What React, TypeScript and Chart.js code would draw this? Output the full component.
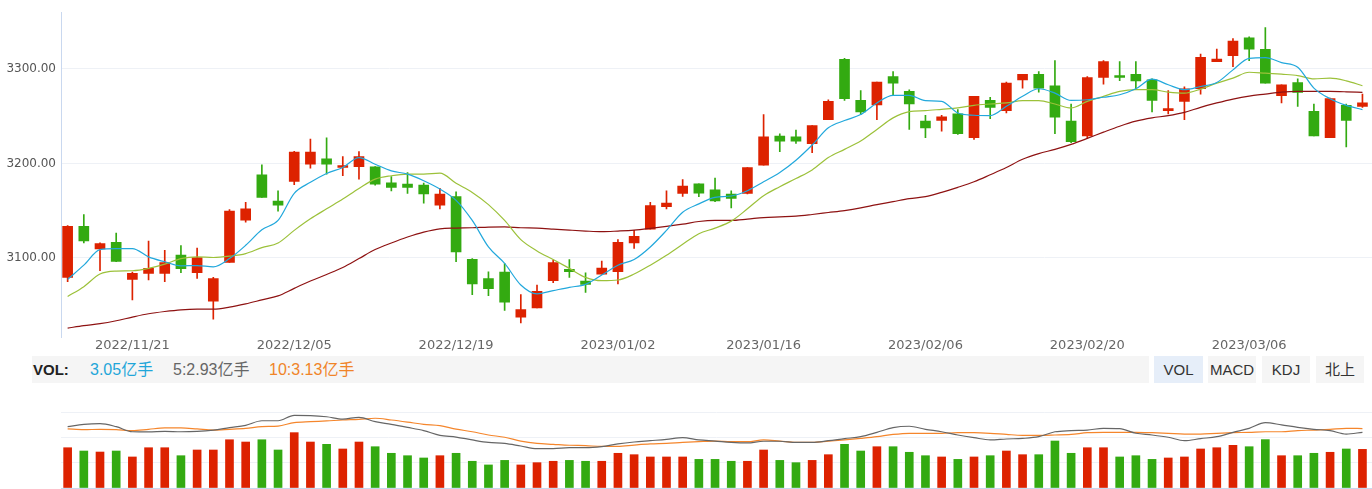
import React, { useEffect, useRef } from 'react';
import { Chart, registerables } from 'chart.js';

Chart.register(...registerables);

// ---------- data ----------
const tickIndex = [4, 14, 24, 34, 43, 53, 63, 73];
const tickText = ['2022/11/21', '2022/12/05', '2022/12/19', '2023/01/02', '2023/01/16', '2023/02/06', '2023/02/20', '2023/03/06'];
const yTicks = [3100, 3200, 3300];

const opens = [3079.5, 3133.4, 3109.6, 3116.6, 3077.4, 3083.7, 3083.7, 3103.0, 3084.4, 3054.3, 3095.2, 3140.0, 3188.0, 3160.3, 3181.0, 3199.2, 3204.8, 3195.7, 3196.7, 3196.4, 3179.6, 3178.2, 3177.1, 3155.8, 3164.9, 3098.7, 3078.1, 3085.0, 3037.5, 3047.3, 3076.0, 3087.9, 3075.6, 3083.0, 3085.4, 3115.9, 3130.6, 3154.4, 3168.4, 3178.5, 3172.2, 3167.7, 3168.4, 3198.1, 3229.0, 3228.2, 3220.9, 3246.4, 3310.2, 3266.7, 3261.9, 3292.0, 3276.2, 3244.7, 3245.4, 3252.4, 3227.2, 3266.7, 3255.9, 3288.4, 3294.4, 3282.2, 3244.7, 3229.0, 3290.9, 3293.0, 3294.4, 3288.4, 3255.9, 3265.7, 3279.0, 3307.7, 3314.0, 3332.9, 3320.7, 3271.6, 3285.6, 3255.2, 3227.2, 3261.5, 3260.4];
const highs = [3134.4, 3146.0, 3116.0, 3126.4, 3085.0, 3118.0, 3108.2, 3113.0, 3110.6, 3079.5, 3151.2, 3159.0, 3198.5, 3171.0, 3212.8, 3225.8, 3227.2, 3207.2, 3212.5, 3196.7, 3186.2, 3190.4, 3179.2, 3173.6, 3170.0, 3099.4, 3085.4, 3094.2, 3061.3, 3071.4, 3097.7, 3098.4, 3084.4, 3096.6, 3119.4, 3129.2, 3158.9, 3171.0, 3183.0, 3178.5, 3184.5, 3171.0, 3195.7, 3251.7, 3231.4, 3235.2, 3240.1, 3267.4, 3311.2, 3277.2, 3286.0, 3297.2, 3278.0, 3251.0, 3251.0, 3257.0, 3271.0, 3270.0, 3286.0, 3294.4, 3297.2, 3308.8, 3262.9, 3292.0, 3308.8, 3307.7, 3307.7, 3289.5, 3277.0, 3281.1, 3315.8, 3321.0, 3332.2, 3334.0, 3343.8, 3283.2, 3289.5, 3262.9, 3269.2, 3262.9, 3273.4];
const lows = [3075.0, 3116.0, 3086.5, 3096.0, 3055.7, 3076.7, 3075.0, 3084.4, 3078.4, 3035.4, 3095.2, 3138.0, 3164.2, 3149.5, 3177.5, 3195.0, 3188.7, 3187.0, 3183.4, 3177.0, 3171.0, 3168.4, 3157.9, 3152.0, 3096.0, 3061.3, 3060.2, 3044.5, 3031.2, 3047.3, 3073.9, 3079.5, 3063.7, 3083.0, 3072.5, 3110.0, 3130.6, 3152.0, 3165.2, 3164.9, 3159.6, 3153.0, 3167.7, 3198.1, 3212.5, 3221.2, 3211.4, 3246.4, 3266.7, 3251.7, 3246.4, 3272.7, 3236.0, 3227.2, 3234.2, 3230.7, 3225.4, 3247.5, 3253.4, 3279.7, 3275.5, 3231.4, 3222.0, 3226.5, 3283.9, 3287.7, 3278.0, 3254.5, 3252.4, 3246.4, 3273.4, 3307.7, 3302.5, 3308.8, 3285.0, 3264.0, 3260.4, 3229.0, 3227.2, 3217.4, 3259.4];
const closes = [3133.4, 3118.0, 3115.2, 3096.3, 3083.7, 3089.0, 3095.2, 3088.6, 3100.5, 3078.1, 3149.5, 3152.0, 3164.2, 3155.8, 3212.1, 3212.1, 3199.2, 3197.8, 3207.2, 3178.2, 3174.7, 3174.7, 3167.7, 3167.7, 3106.4, 3072.5, 3067.6, 3053.2, 3045.5, 3064.8, 3095.2, 3085.4, 3072.1, 3089.3, 3116.6, 3122.9, 3155.4, 3158.2, 3176.1, 3168.7, 3160.3, 3163.1, 3195.7, 3228.2, 3223.7, 3223.7, 3240.1, 3265.7, 3268.5, 3254.5, 3286.0, 3285.0, 3262.9, 3237.7, 3249.2, 3231.4, 3271.0, 3259.4, 3285.0, 3294.4, 3279.7, 3248.9, 3223.0, 3290.9, 3307.7, 3290.9, 3287.4, 3266.7, 3258.0, 3279.0, 3312.3, 3310.5, 3329.4, 3321.0, 3285.0, 3283.2, 3275.1, 3229.0, 3268.5, 3245.4, 3264.0];

const ma5 = [3077.4, 3092.4, 3108.9, 3110, 3110, 3101.2, 3096, 3091.7, 3092, 3090.7, 3099.4, 3113.4, 3129.9, 3139.7, 3168.4, 3180, 3189.4, 3195.7, 3206.2, 3199.2, 3192.2, 3188.7, 3181.7, 3172.9, 3161, 3139.7, 3111.7, 3094.2, 3071.4, 3062, 3065.5, 3069, 3072.1, 3081.9, 3092.4, 3098.4, 3111.7, 3129.2, 3148.4, 3157.2, 3164.2, 3165.6, 3171.2, 3180.6, 3190.4, 3203.4, 3219.5, 3237.7, 3245.4, 3251.7, 3264, 3272, 3272, 3266.4, 3265.7, 3253.4, 3251, 3250.6, 3260.4, 3271, 3279, 3274.4, 3266.7, 3267.4, 3270, 3272.7, 3279, 3289.2, 3283.2, 3278, 3281.4, 3285.6, 3299, 3311.2, 3311.9, 3306.7, 3301.8, 3279.7, 3268.5, 3261.5, 3257];
const ma10 = [3059.2, 3069.7, 3083, 3086.1, 3086.5, 3089, 3093.5, 3099.4, 3101.2, 3100.5, 3101.9, 3104.7, 3111, 3115.9, 3129.2, 3141.4, 3152, 3162.4, 3173.6, 3183.4, 3187, 3188.7, 3188.7, 3189.7, 3179, 3169.4, 3156.5, 3139.7, 3119.4, 3107.5, 3098.4, 3089, 3079.5, 3076, 3076.7, 3083, 3092.4, 3102.9, 3114.5, 3125.7, 3131.6, 3139, 3152, 3165.9, 3175.4, 3184.1, 3193.2, 3206.2, 3214.9, 3223.7, 3236, 3248.2, 3254.8, 3255.9, 3257.3, 3258.7, 3261.5, 3262.9, 3264, 3266.4, 3266.4, 3262.9, 3258.7, 3265.7, 3271, 3276.2, 3278, 3278, 3275.5, 3274.4, 3278.6, 3285, 3290.2, 3296.5, 3295.5, 3294.4, 3293, 3289.5, 3290.2, 3287.4, 3282.2];
const ma60 = [3025.9, 3028.4, 3030.5, 3033.6, 3037.5, 3041, 3043.4, 3045.2, 3045.9, 3045.9, 3048, 3051.5, 3055.7, 3059.9, 3067.9, 3075.6, 3082.6, 3090, 3099.4, 3108.9, 3115.9, 3122.2, 3127.4, 3130.9, 3131.6, 3132, 3132.7, 3133, 3132, 3131.6, 3130.6, 3129.5, 3128.5, 3127.8, 3128.5, 3129.5, 3131.3, 3133.4, 3135.8, 3138.6, 3139.7, 3139.7, 3141.1, 3142.8, 3143.5, 3144.2, 3146, 3148.1, 3150.2, 3153, 3156.5, 3159.6, 3162.8, 3164.9, 3169.4, 3174.7, 3180.6, 3188, 3195.7, 3204.4, 3210.4, 3214.9, 3220.2, 3226.5, 3233.1, 3239.4, 3244.7, 3248.2, 3250.6, 3254.1, 3259.4, 3264, 3268.1, 3271.3, 3273.4, 3275.5, 3276.2, 3276.2, 3276.2, 3275.8, 3275.1];

// volume in 亿手
const volumes = [3.18, 2.92, 2.84, 2.92, 2.45, 3.18, 3.18, 2.55, 3.00, 3.00, 3.81, 3.63, 3.81, 3.00, 4.37, 3.63, 3.45, 3.08, 3.63, 3.26, 2.74, 2.55, 2.37, 2.55, 2.74, 2.11, 1.82, 2.18, 1.82, 2.00, 2.11, 2.18, 2.11, 2.11, 2.74, 2.63, 2.45, 2.45, 2.45, 2.26, 2.26, 2.11, 2.11, 3.00, 2.18, 2.00, 2.18, 2.63, 3.45, 2.92, 3.26, 3.26, 2.82, 2.55, 2.45, 2.26, 2.45, 2.55, 2.92, 2.63, 2.63, 3.71, 2.74, 3.18, 3.18, 2.45, 2.55, 2.26, 2.37, 2.45, 3.08, 3.18, 3.37, 3.26, 3.82, 2.55, 2.55, 2.74, 2.82, 3.08, 3.05];
const volMa5 = [3.23, 3.35, 3.39, 3.23, 2.96, 2.95, 2.98, 2.96, 2.98, 3.05, 3.18, 3.30, 3.54, 3.54, 3.82, 3.81, 3.75, 3.63, 3.72, 3.49, 3.35, 3.19, 3.02, 2.77, 2.68, 2.53, 2.40, 2.35, 2.21, 2.07, 2.07, 2.12, 2.12, 2.18, 2.32, 2.42, 2.49, 2.56, 2.65, 2.53, 2.47, 2.40, 2.37, 2.46, 2.46, 2.40, 2.40, 2.49, 2.60, 2.70, 2.93, 3.18, 3.25, 3.09, 2.96, 2.79, 2.65, 2.53, 2.58, 2.61, 2.70, 2.96, 3.02, 3.05, 3.14, 3.12, 2.88, 2.79, 2.67, 2.49, 2.60, 2.70, 2.93, 3.14, 3.44, 3.32, 3.19, 3.09, 3.02, 2.84, 2.93];
const volMa10 = [3.11, 3.07, 3.09, 3.07, 3.02, 3.09, 3.16, 3.16, 3.11, 3.05, 3.09, 3.14, 3.23, 3.26, 3.44, 3.49, 3.53, 3.58, 3.61, 3.67, 3.58, 3.47, 3.35, 3.28, 3.10, 2.96, 2.79, 2.67, 2.47, 2.35, 2.30, 2.25, 2.23, 2.19, 2.19, 2.26, 2.32, 2.35, 2.40, 2.44, 2.47, 2.44, 2.44, 2.53, 2.47, 2.40, 2.40, 2.46, 2.53, 2.61, 2.70, 2.82, 2.88, 2.88, 2.88, 2.91, 2.91, 2.88, 2.82, 2.77, 2.77, 2.79, 2.82, 2.91, 2.93, 2.93, 2.93, 2.91, 2.88, 2.84, 2.84, 2.88, 2.91, 2.93, 2.96, 2.96, 3.02, 3.05, 3.09, 3.14, 3.13];
const volTicks = [0, 2, 4, 6];

const volLabel = '3.05亿手';
const vol5Label = '5:2.93亿手';
const vol10Label = '10:3.13亿手';
const tabs = ['VOL', 'MACD', 'KDJ', '北上'];

// ---------- styles ----------
const RED = '#dd2200';
const GREEN = '#33aa11';
const X_MIN = -0.41;
const X_MAX = 80.59;
const AXIS_W = 61;
const W = 1372;

const isUp = (i: number) => closes[i] >= opens[i];
const candleColor = (ctx: any) => (isUp(ctx.dataIndex) ? RED : GREEN);
const pts = (arr: number[]) => arr.map((v, i) => ({ x: i, y: v }));

function MainChart() {
  const ref = useRef<HTMLCanvasElement>(null);
  useEffect(() => {
    const chart = new Chart(ref.current!, {
      type: 'bar',
      data: {
        datasets: [
          {
            type: 'line', data: pts(ma5), borderColor: '#22a8dc', borderWidth: 1.2,
            pointRadius: 0, cubicInterpolationMode: 'monotone', order: 1,
          } as any,
          {
            type: 'line', data: pts(ma10), borderColor: '#9cc13a', borderWidth: 1.2,
            pointRadius: 0, cubicInterpolationMode: 'monotone', order: 1,
          } as any,
          {
            type: 'line', data: pts(ma60), borderColor: '#8e1212', borderWidth: 1.2,
            pointRadius: 0, cubicInterpolationMode: 'monotone', order: 1,
          } as any,
          {
            type: 'bar', data: lows.map((l, i) => ({ x: i, y: [l, highs[i]] })),
            backgroundColor: candleColor, barThickness: 1, grouped: false, order: 3,
          } as any,
          {
            type: 'bar', data: opens.map((o, i) => ({ x: i, y: [o, closes[i]] })),
            backgroundColor: candleColor, barThickness: 10, minBarLength: 1, grouped: false, order: 2,
          } as any,
        ],
      },
      options: {
        responsive: false,
        animation: false,
        layout: { padding: { top: 10, left: 0, right: 0, bottom: 0 } },
        plugins: { legend: { display: false }, tooltip: { enabled: false } },
        events: [],
        scales: {
          x: {
            type: 'linear', min: X_MIN, max: X_MAX, offset: false,
            grid: { display: false, drawTicks: false, offset: false }, border: { display: false },
            afterBuildTicks: (s: any) => { s.ticks = tickIndex.map((v) => ({ value: v })); },
            ticks: {
              autoSkip: false, maxRotation: 0, padding: 0, color: '#666',
              font: { family: 'DejaVu Sans', size: 13 },
              callback: (v: any) => tickText[tickIndex.indexOf(Number(v))] ?? '',
            },
          },
          y: {
            min: 3016, max: 3360,
            afterBuildTicks: (s: any) => { s.ticks = yTicks.map((v) => ({ value: v })); },
            afterFit: (s: any) => { s.width = AXIS_W; },
            grid: { color: '#eef1f6', drawTicks: false },
            border: { color: '#c9d8ef' },
            ticks: {
              color: '#555', padding: 5, font: { family: 'DejaVu Sans', size: 12 },
              callback: (v: any) => Number(v).toFixed(2),
            },
          },
        },
      } as any,
    });
    return () => chart.destroy();
  }, []);
  return <canvas ref={ref} width={W} height={353} style={{ display: 'block' }} />;
}

function VolumeChart() {
  const ref = useRef<HTMLCanvasElement>(null);
  useEffect(() => {
    const volColor = (ctx: any) => (isUp(ctx.dataIndex) ? RED : GREEN);
    const chart = new Chart(ref.current!, {
      type: 'bar',
      data: {
        datasets: [
          {
            type: 'line', data: pts(volMa5), borderColor: '#666666', borderWidth: 1.2, yAxisID: 'yl',
            pointRadius: 0, cubicInterpolationMode: 'monotone', order: 1,
          } as any,
          {
            type: 'line', data: pts(volMa10), borderColor: '#f5862c', borderWidth: 1.2, yAxisID: 'yl',
            pointRadius: 0, cubicInterpolationMode: 'monotone', order: 1,
          } as any,
          {
            type: 'bar', data: pts(volumes), backgroundColor: volColor, barThickness: 8,
            grouped: false, yAxisID: 'yv', order: 2,
          } as any,
        ],
      },
      options: {
        responsive: false,
        animation: false,
        layout: { padding: { top: 28, left: 0, right: 0, bottom: 1 } },
        plugins: { legend: { display: false }, tooltip: { enabled: false } },
        events: [],
        scales: {
          x: {
            type: 'linear', min: X_MIN, max: X_MAX, offset: false,
            grid: { display: false, drawTicks: false, offset: false },
            border: { color: '#c9d8ef' },
            ticks: { display: false },
          },
          yv: {
            position: 'left', min: 0, max: 6,
            afterBuildTicks: (s: any) => { s.ticks = volTicks.map((v) => ({ value: v })); },
            afterFit: (s: any) => { s.width = AXIS_W; },
            grid: { color: '#eef1f6', drawTicks: false },
            border: { display: false },
            ticks: { display: false },
          },
          yl: { display: false, min: 0, max: 4 },
        },
      } as any,
    });
    return () => chart.destroy();
  }, []);
  return <canvas ref={ref} width={W} height={105} style={{ display: 'block' }} />;
}

function Toolbar() {
  const font = '"Liberation Sans", "Noto Sans CJK SC", sans-serif';
  const tabLeft = [1154, 1208, 1262, 1316];
  const tabW = [49, 48, 48, 48];
  return (
    <div style={{ position: 'relative', width: W, height: 28, marginTop: 3, fontFamily: font }}>
      <div style={{ position: 'absolute', left: 32, top: 0, width: 1117, height: 27, background: '#f5f5f5' }} />
      <span style={{ position: 'absolute', left: 33, top: 0, lineHeight: '27px', fontSize: 15, fontWeight: 'bold', color: '#222' }}>VOL:</span>
      <span style={{ position: 'absolute', left: 90, top: 0, lineHeight: '27px', fontSize: 16, color: '#1fa6d9' }}>{volLabel}</span>
      <span style={{ position: 'absolute', left: 173, top: 0, lineHeight: '27px', fontSize: 16, color: '#666' }}>{vol5Label}</span>
      <span style={{ position: 'absolute', left: 269, top: 0, lineHeight: '27px', fontSize: 16, color: '#f08428' }}>{vol10Label}</span>
      {tabs.map((t, i) => (
        <div key={t} style={{
          position: 'absolute', left: tabLeft[i], top: 0, width: tabW[i], height: 27, lineHeight: '27px',
          textAlign: 'center', fontSize: 15, color: '#333', background: i === 0 ? '#e6eef9' : '#f5f5f5',
        }}>{t}</div>
      ))}
    </div>
  );
}

export default function App() {
  return (
    <div style={{ width: W, background: '#fff' }}>
      <style>{'body{margin:0;background:#fff;}'}</style>
      <MainChart />
      <Toolbar />
      <VolumeChart />
    </div>
  );
}
